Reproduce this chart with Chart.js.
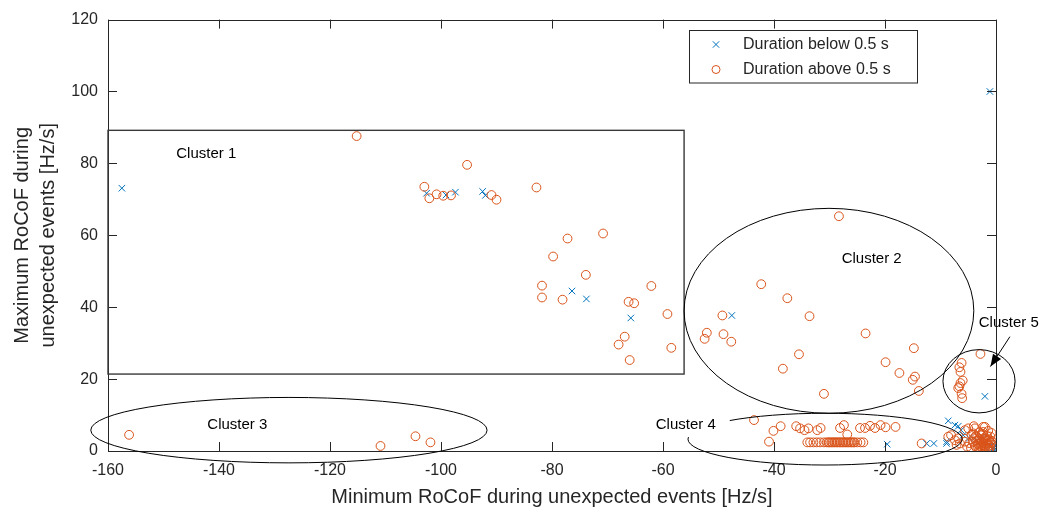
<!DOCTYPE html>
<html>
<head>
<meta charset="utf-8">
<script src="https://cdn.jsdelivr.net/npm/chart.js@4/dist/chart.umd.min.js"></script>
<style>
  html, body { margin: 0; padding: 0; background: #fff; }
  #wrap { width: 1045px; height: 516px; }
</style>
</head>
<body>
<div id="wrap"><canvas id="rocofChart" width="1045" height="516"></canvas></div>
<script>
// events that lasted less than 0.5 s (crosses)
const minRocofBelow = [-157.5, -102.6, -99.1, -97.4, -92.5, -92.0, -76.4, -73.8, -65.8, -47.6,
  -1.1, -2.0, -19.6, -12.5, -11.2, -8.9, -8.6, -7.4, -6.8, -5.9, -8.9, -1.1, -0.1, -0.3, -0.6,
  -1.5, -0.2, -2.5, -3.5, -0.4, -4.8, -6.3, -0.1, -0.2];
const maxRocofBelow = [73.1, 71.7, 71.2, 72.0, 72.2, 71.1, 44.5, 42.3, 37.0, 37.7,
  100, 15.2, 1.9, 2.1, 2.1, 2.1, 8.4, 7.2, 6.9, 4.4, 2.6, 1.7, 2.6, 1.0, 0.5,
  0.3, 1.6, 3.8, 2.9, 0.2, 3.6, 5.8, 1.3, 0.4];

// events that lasted more than 0.5 s (circles)
const minRocofAbove = [
  -115.2, -95.3, -103.0, -102.1, -100.8, -99.6, -98.2, -90.9, -90.0, -82.8, -77.2, -70.8, -79.8,
  -73.9, -81.8, -81.8, -78.1, -62.1, -66.2, -65.2, -59.2, -66.9, -68.0, -58.5, -66.0,
  -28.3, -42.3, -37.6, -33.6, -49.3, -52.1, -52.5, -49.1, -47.7, -23.5, -35.5, -38.4, -14.8,
  -19.9, -17.4, -14.6, -15.0, -13.9, -31.0,
  -156.2, -110.9, -104.6, -101.9,
  -2.8, -6.2, -6.6, -6.4, -6.0, -6.4, -6.6, -6.8, -6.2, -6.1,
  -43.6, -40.1, -40.9, -38.8, -36.0, -35.3, -34.5, -33.8, -32.2, -31.6, -28.1, -27.4, -26.8,
  -24.5, -23.6, -22.7, -21.8, -20.8, -19.9, -18.1,
  -34.0, -33.5, -32.9, -32.3, -31.7, -31.0, -30.5, -30.0, -29.5, -29.0, -28.5, -28.0, -27.5,
  -27.0, -26.5, -26.0, -25.5, -25.0, -24.4, -23.9,
  -30.2, -29.7, -29.2, -28.7, -28.2, -27.7, -27.2, -26.7, -26.2, -25.7,
  -13.4, -8.1, -8.6, -7.4, -7.1, -6.5, -6.8, -5.6, -5.6, -5.0, -4.0, -3.8, -2.3, -2.0, -2.3, -4.1,
  -4.4, -4.0, -3.6, -3.2, -2.8, -2.4, -2.0, -1.6, -1.2, -0.9, -1.5, -2.0, -2.6, -3.0, -2.5, -1.8,
  -3.8, -4.8, -5.2, -4.5, -3.4, -1.3, -2.2, -1.0, -0.8, -1.4, -3.0, -2.7,
  -1.0, -1.4, -1.8, -2.2, -2.6, -3.0, -3.4, -1.2, -0.8, -1.6, -2.4, -3.6, -2.0, -1.4, -3.2,
  -4.2, -2.9, -1.9, -1.1, -2.3];
const maxRocofAbove = [
  87.6, 79.6, 73.5, 70.3, 71.4, 71.0, 71.1, 71.2, 69.9, 73.3, 59.1, 60.5, 54.1,
  49.0, 46.0, 42.7, 42.1, 45.9, 41.5, 41.1, 38.1, 31.8, 29.6, 28.7, 25.3,
  65.3, 46.4, 42.5, 37.5, 37.7, 32.9, 31.2, 32.5, 30.4, 32.7, 26.9, 22.9, 28.6,
  24.7, 21.7, 20.7, 19.8, 16.7, 15.9,
  4.5, 1.4, 4.1, 2.4,
  27.0, 24.5, 23.3, 22.0, 19.6, 18.9, 18.0, 17.5, 15.9, 14.7,
  8.6, 5.6, 2.6, 6.9, 6.9, 6.3, 5.8, 6.3, 5.8, 6.4, 6.4, 7.2, 4.6,
  6.4, 6.4, 7.0, 6.4, 7.2, 6.6, 6.7,
  2.4, 2.4, 2.4, 2.4, 2.4, 2.4, 2.4, 2.4, 2.4, 2.4, 2.4, 2.4, 2.4,
  2.4, 2.4, 2.4, 2.4, 2.4, 2.4, 2.4,
  2.4, 2.4, 2.4, 2.4, 2.4, 2.4, 2.4, 2.4, 2.4, 2.4,
  2.1, 4.4, 4.0, 3.0, 1.7, 2.1, 3.5, 2.6, 5.8, 6.3, 6.9, 6.3, 6.7, 6.7, 5.3, 4.9,
  4.5, 3.6, 2.8, 1.9, 1.2, 0.8, 0.5, 1.0, 1.5, 2.2, 3.0, 3.8, 4.4, 3.2, 2.5, 2.0,
  1.4, 2.2, 1.2, 0.8, 0.6, 0.6, 1.6, 4.0, 5.0, 5.6, 5.2, 0.4,
  1.0, 2.0, 2.8, 3.4, 1.6, 2.2, 3.8, 3.2, 2.8, 4.2, 4.8, 4.2, 1.2, 0.4, 1.0,
  2.6, 2.9, 3.3, 2.5, 2.2];

const xTicks = [-160, -140, -120, -100, -80, -60, -40, -20, 0];
const yTicks = [0, 20, 40, 60, 80, 100, 120];
const seriesLabels = ['Duration below 0.5 s', 'Duration above 0.5 s'];

// cluster outlines, in data units
const clusterBox = { x1: -160, x2: -56.2, y1: 21.4, y2: 89.2 };
const clusterEllipses = [
  { cx: -30.1, cy: 39.0, rx: 26.1, ry: 28.5 },
  { cx: -127.4, cy: 5.8, rx: 35.7, ry: 9.1 },
  { cx: -30.8, cy: 3.3, rx: 24.7, ry: 7.2 },
  { cx: -3.06, cy: 19.4, rx: 6.5, ry: 8.8 }
];
const clusterNames = ['Cluster 1', 'Cluster 2', 'Cluster 3', 'Cluster 4', 'Cluster 5'];
const clusterLabelX = [-142.3, -22.4, -136.7, -55.9, 2.3];
const clusterLabelY = [82.7, 53.4, 7.2, 7.2, 35.7];
const arrow5 = { x1: 2.5, y1: 31.8, x2: -1.0, y2: 23.5 };

const BLUE = '#0072BD';
const ORANGE = '#D95319';
const INK = '#262626';
const FONT = "'Liberation Sans', Arial, sans-serif";

function toPoints(xs, ys) {
  return xs.map((x, i) => ({ x: x, y: ys[i] }));
}

const decorPlugin = {
  id: 'decor',
  afterDatasetsDraw(chart) {
    const ctx = chart.ctx;
    const a = chart.chartArea;
    const sx = chart.scales.x, sy = chart.scales.y;
    const px = v => sx.getPixelForValue(v);
    const py = v => sy.getPixelForValue(v);
    ctx.save();

    // axes box with inward ticks
    ctx.strokeStyle = INK;
    ctx.lineWidth = 1;
    ctx.strokeRect(Math.round(a.left) + 0.5, Math.round(a.top) + 0.5,
      Math.round(a.right - a.left), Math.round(a.bottom - a.top));
    const tl = 9;
    ctx.beginPath();
    xTicks.forEach(t => {
      const x = Math.round(px(t)) + 0.5;
      ctx.moveTo(x, a.bottom); ctx.lineTo(x, a.bottom - tl);
      ctx.moveTo(x, a.top); ctx.lineTo(x, a.top + tl);
    });
    yTicks.forEach(t => {
      const y = Math.round(py(t)) + 0.5;
      ctx.moveTo(a.left, y); ctx.lineTo(a.left + tl, y);
      ctx.moveTo(a.right, y); ctx.lineTo(a.right - tl, y);
    });
    ctx.stroke();

    // cluster 1 rectangle
    ctx.strokeStyle = '#3a3a3a';
    ctx.lineWidth = 1.4;
    ctx.strokeRect(px(clusterBox.x1), py(clusterBox.y2),
      px(clusterBox.x2) - px(clusterBox.x1), py(clusterBox.y1) - py(clusterBox.y2));

    // ellipses
    ctx.strokeStyle = '#000';
    ctx.lineWidth = 1;
    clusterEllipses.forEach(e => {
      ctx.beginPath();
      ctx.ellipse(px(e.cx), py(e.cy), Math.abs(px(e.cx + e.rx) - px(e.cx)),
        Math.abs(py(e.cy + e.ry) - py(e.cy)), 0, 0, Math.PI * 2);
      ctx.stroke();
    });

    // arrow to cluster 5
    const ax1 = px(arrow5.x1), ay1 = py(arrow5.y1), ax2 = px(arrow5.x2), ay2 = py(arrow5.y2);
    const ang = Math.atan2(ay2 - ay1, ax2 - ax1);
    ctx.beginPath();
    ctx.moveTo(ax1, ay1); ctx.lineTo(ax2, ay2);
    ctx.stroke();
    ctx.fillStyle = '#000';
    ctx.beginPath();
    ctx.moveTo(ax2, ay2);
    ctx.lineTo(ax2 - 13 * Math.cos(ang - 0.38), ay2 - 13 * Math.sin(ang - 0.38));
    ctx.lineTo(ax2 - 13 * Math.cos(ang + 0.38), ay2 - 13 * Math.sin(ang + 0.38));
    ctx.closePath();
    ctx.fill();

    // cluster labels
    ctx.font = '15px ' + FONT;
    ctx.textAlign = 'center';
    ctx.textBaseline = 'middle';
    clusterNames.forEach((name, i) => {
      const x = px(clusterLabelX[i]), y = py(clusterLabelY[i]);
      const w = ctx.measureText(name).width;
      if (i === 3) {
        ctx.fillStyle = '#fff';
        ctx.fillRect(x - w / 2 - 4, y - 11, w + 18, 23);
      }
      ctx.fillStyle = '#000';
      ctx.fillText(name, x, y);
    });

    // legend
    const lx = a.right - 307, ly = 29.5, lw = 228, lh = 52.5;
    ctx.fillStyle = '#fff';
    ctx.fillRect(lx, ly, lw, lh);
    ctx.strokeStyle = INK;
    ctx.lineWidth = 1;
    ctx.strokeRect(Math.round(lx) + 0.5, Math.round(ly) + 0.5, lw, lh);
    ctx.font = '16px ' + FONT;
    ctx.textAlign = 'left';
    ctx.fillStyle = INK;
    const mx = lx + 27;
    const rows = [ly + 15, ly + 40];
    ctx.strokeStyle = BLUE;
    ctx.beginPath();
    ctx.moveTo(mx - 3.2, rows[0] - 3.2); ctx.lineTo(mx + 3.2, rows[0] + 3.2);
    ctx.moveTo(mx + 3.2, rows[0] - 3.2); ctx.lineTo(mx - 3.2, rows[0] + 3.2);
    ctx.stroke();
    ctx.strokeStyle = ORANGE;
    ctx.beginPath();
    ctx.arc(mx, rows[1], 4, 0, Math.PI * 2);
    ctx.stroke();
    ctx.fillText(seriesLabels[0], lx + 54, rows[0]);
    ctx.fillText(seriesLabels[1], lx + 54, rows[1]);
    ctx.restore();
  }
};

new Chart(document.getElementById('rocofChart'), {
  type: 'scatter',
  data: {
    datasets: [
      {
        label: seriesLabels[1],
        data: toPoints(minRocofAbove, maxRocofAbove),
        pointStyle: 'circle',
        pointRadius: 4.4,
        borderColor: ORANGE,
        backgroundColor: 'rgba(0,0,0,0)',
        borderWidth: 1
      },
      {
        label: seriesLabels[0],
        data: toPoints(minRocofBelow, maxRocofBelow),
        pointStyle: 'crossRot',
        pointRadius: 4.6,
        borderColor: BLUE,
        backgroundColor: BLUE,
        borderWidth: 1
      }
    ]
  },
  options: {
    responsive: false,
    animation: false,
    layout: { padding: { top: 9, right: 49, left: 0, bottom: 0 } },
    plugins: { legend: { display: false }, tooltip: { enabled: false } },
    scales: {
      x: {
        type: 'linear', min: -160, max: 0,
        afterFit: s => { s.height = 65; },
        afterBuildTicks: s => { s.ticks = xTicks.map(v => ({ value: v })); },
        grid: { display: false, drawTicks: false },
        border: { display: false },
        ticks: { padding: 10, color: INK, font: { family: FONT, size: 16 } },
        title: {
          display: true, text: 'Minimum RoCoF during unexpected events [Hz/s]',
          color: INK, font: { family: FONT, size: 20 }, padding: { top: 0, bottom: 7 }
        }
      },
      y: {
        type: 'linear', min: 0, max: 120,
        afterFit: s => { s.width = 108; },
        afterBuildTicks: s => { s.ticks = yTicks.map(v => ({ value: v })); },
        grid: { display: false, drawTicks: false },
        border: { display: false },
        ticks: { padding: 10, color: INK, font: { family: FONT, size: 16 } },
        title: {
          display: true, text: ['Maximum RoCoF during', 'unexpected events [Hz/s]'],
          color: INK, font: { family: FONT, size: 20, lineHeight: 1.3 }, padding: { top: 9, bottom: 0 }
        }
      }
    }
  },
  plugins: [decorPlugin]
});
</script>
</body>
</html>
